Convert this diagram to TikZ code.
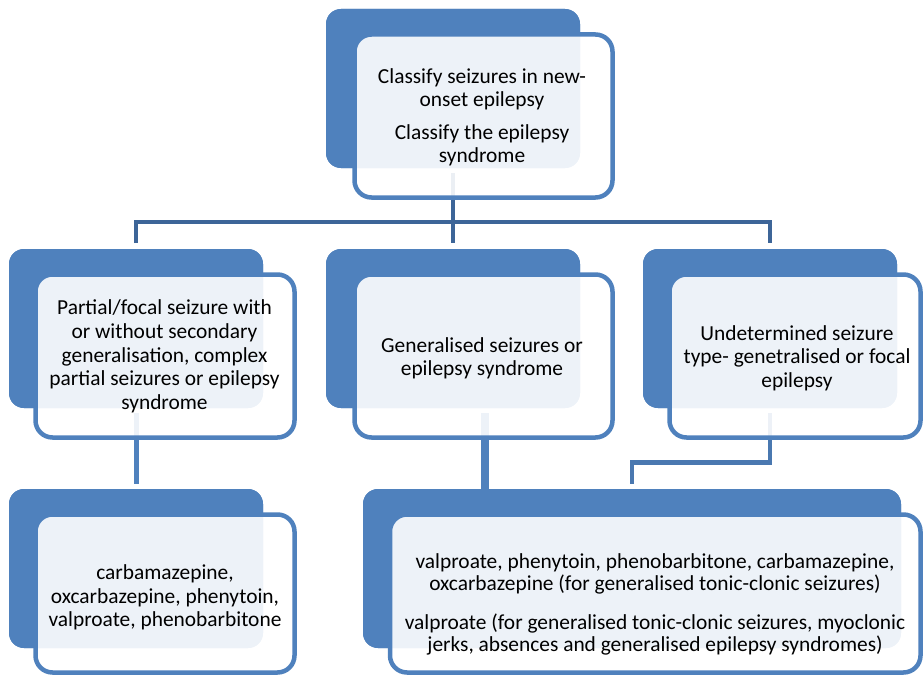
\documentclass[tikz,border=0pt]{standalone}
\usepackage{fontspec}
\setmainfont{Carlito}
\usetikzlibrary{calc}

\definecolor{boxblue}{HTML}{4F81BD}
\definecolor{treeblue}{HTML}{3D6598}
\definecolor{linkblue}{HTML}{4A78B0}

\tikzset{
  backbox/.style={rectangle, rounded corners=15pt, fill=boxblue, draw=none,
    inner sep=0pt, outer sep=0pt},
  frontbox/.style={rectangle, rounded corners=17pt, fill=white, fill opacity=0.9,
    draw=boxblue, draw opacity=1, line width=4.5pt, inner sep=0pt, outer sep=0pt},
  txt/.style={align=center, inner sep=0pt, text=black,
    font=\fontsize{21.4}{#1}\selectfont},
  txt/.default=23.5,
  tree/.style={draw=treeblue, line width=4.5pt},
  link/.style={draw=boxblue, line width=5pt},
  wide link/.style={draw=boxblue, line width=8pt},
  side link/.style={draw=linkblue, line width=4.5pt},
}

\begin{document}
\begin{tikzpicture}[x=1pt,y=-1pt]
\useasboundingbox (0,0) rectangle (923,677);

% back plates
\node[backbox, minimum width=254pt, minimum height=159pt] (topB) at (453,88.5) {};
\node[backbox, minimum width=254pt, minimum height=159pt] (partB) at (136,328.5) {};
\node[backbox, minimum width=254pt, minimum height=159pt] (genB) at (453,328.5) {};
\node[backbox, minimum width=254pt, minimum height=159pt] (undB) at (770,328.5) {};
\node[backbox, minimum width=254pt, minimum height=159pt] (blB) at (136,568.5) {};
\node[backbox, minimum width=538pt, minimum height=159pt] (brB) at (632,568.5) {};

% connectors (behind the front cards)
\coordinate (bus) at (453,222);
\coordinate (elbow) at (632,462.5);
\draw[tree] ([yshift=-5pt]topB.south) -- (bus);
\draw[tree] ([yshift=6pt]partB.north) |- (bus) -| ([yshift=6pt]undB.north);
\draw[tree] (bus) -- ([yshift=6pt]genB.north);
\draw[link] ([yshift=-5pt]partB.south) -- ([yshift=5pt]blB.north);
\draw[wide link] ([xshift=32pt,yshift=-5pt]genB.south) -- ([xshift=32pt]genB.south |- brB.north);
\draw[side link] ([yshift=-5pt]undB.south) |- (elbow) -- ([yshift=5pt]brB.north);

% redraw plates over connector ends
\fill[boxblue, rounded corners=15pt] (topB.south west) rectangle (topB.north east);
\fill[boxblue, rounded corners=15pt] (partB.south west) rectangle (partB.north east);
\fill[boxblue, rounded corners=15pt] (genB.south west) rectangle (genB.north east);
\fill[boxblue, rounded corners=15pt] (undB.south west) rectangle (undB.north east);
\fill[boxblue, rounded corners=15pt] (blB.south west) rectangle (blB.north east);
\fill[boxblue, rounded corners=15pt] (brB.south west) rectangle (brB.north east);

% front cards
\node[frontbox, minimum width=258pt, minimum height=163pt] (topF) at (483.5,116) {};
\node[frontbox, minimum width=259pt, minimum height=163pt] (partF) at (165,356) {};
\node[frontbox, minimum width=258pt, minimum height=163pt] (genF) at (483.5,356) {};
\node[frontbox, minimum width=251pt, minimum height=163pt] (undF) at (795,356) {};
\node[frontbox, minimum width=259pt, minimum height=158pt] (blF) at (165,593.5) {};
\node[frontbox, minimum width=530.5pt, minimum height=158pt] (brF) at (655.25,593.5) {};

% texts
\node[txt=23] (topT) at (482,117.5) {Classify seizures in new-\\onset epilepsy\\[9.5pt]Classify the epilepsy\\syndrome};
\node[txt=23.75] (partT) at (164.5,356.5) {Partial/focal seizure with\\or without secondary\\generalisation, complex\\partial seizures or epilepsy\\syndrome};
\node[txt=23] (genT) at (482,358.5) {Generalised seizures or\\epilepsy syndrome};
\node[txt] (undT) at (797,358) {Undetermined seizure\\type- genetralised or focal\\epilepsy};
\node[txt] (blT) at (165,597.5) {carbamazepine,\\oxcarbazepine, phenytoin,\\valproate, phenobarbitone};
\node[txt=22] (brT) at (655,604) {valproate, phenytoin, phenobarbitone, carbamazepine,\\oxcarbazepine (for generalised tonic-clonic seizures)\\[17pt]valproate (for generalised tonic-clonic seizures, myoclonic\\jerks, absences and generalised epilepsy syndromes)};
\end{tikzpicture}
\end{document}
